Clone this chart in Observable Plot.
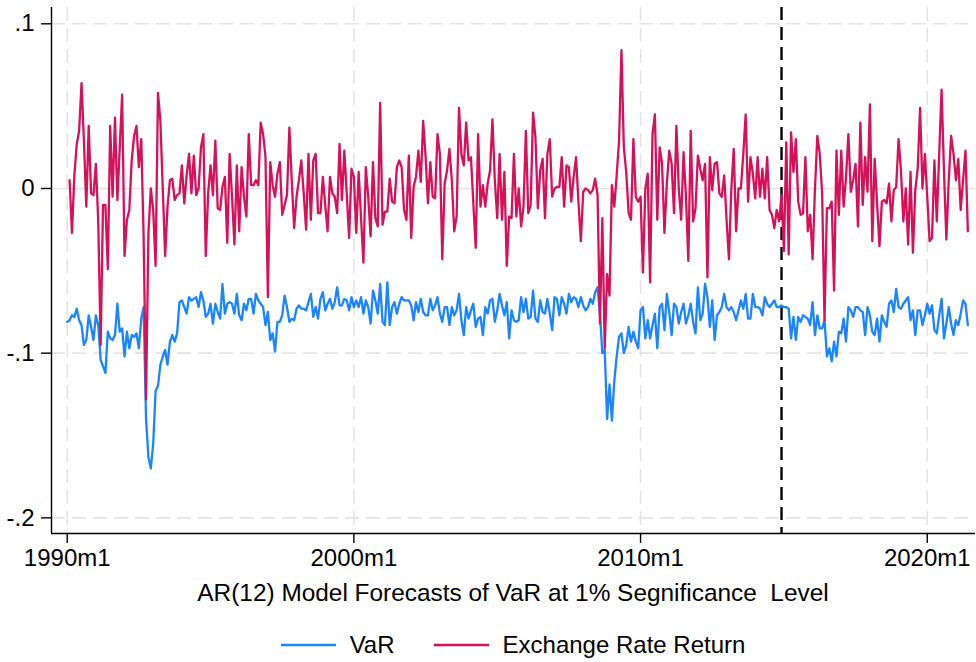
<!DOCTYPE html>
<html>
<head>
<meta charset="utf-8">
<script src="https://cdn.jsdelivr.net/npm/d3@7"></script>
<script src="https://cdn.jsdelivr.net/npm/@observablehq/plot@0.6"></script>
<style>
  html, body { margin: 0; padding: 0; background: #fff; }
  body { width: 976px; height: 662px; overflow: hidden; font-family: "Liberation Sans", Arial, Helvetica, sans-serif; color: #000; }
  #caption { height: 36px; line-height: 36px; padding: 0 1px 0 51px; text-align: center; font-size: 24.4px; white-space: pre; }
  #legend { height: 68px; padding: 0 1px 0 51px; display: flex; align-items: center; justify-content: center; font-size: 24px; }
  #legend .item { display: flex; align-items: center; white-space: pre; }
  #legend .item + .item { margin-left: 39px; }
  #legend svg { margin-right: 14px; }
</style>
</head>
<body>
<div id="chart"></div>
<div id="caption"></div>
<div id="legend"></div>
<script>
// Monthly Value-at-Risk forecasts (AR(12), 1% level), one row per year
const varStart = "1990m1";
const varValues = [
  -0.081,-0.080,-0.077,-0.078,-0.073,-0.080,-0.083,-0.095,-0.092,-0.077,-0.084,-0.092,
  -0.077,-0.083,-0.104,-0.108,-0.112,-0.087,-0.091,-0.092,-0.089,-0.070,-0.087,-0.085,
  -0.102,-0.087,-0.097,-0.089,-0.090,-0.088,-0.097,-0.079,-0.072,-0.140,-0.163,-0.170,
  -0.155,-0.123,-0.120,-0.107,-0.102,-0.098,-0.107,-0.093,-0.089,-0.093,-0.088,-0.069,
  -0.068,-0.072,-0.076,-0.066,-0.068,-0.067,-0.066,-0.072,-0.063,-0.068,-0.078,-0.076,
  -0.070,-0.082,-0.070,-0.075,-0.079,-0.058,-0.076,-0.070,-0.069,-0.070,-0.076,-0.064,
  -0.077,-0.080,-0.070,-0.074,-0.067,-0.067,-0.076,-0.064,-0.068,-0.070,-0.072,-0.083,
  -0.075,-0.092,-0.088,-0.099,-0.081,-0.081,-0.077,-0.065,-0.072,-0.081,-0.079,-0.080,
  -0.073,-0.071,-0.073,-0.073,-0.074,-0.069,-0.064,-0.078,-0.072,-0.079,-0.067,-0.063,
  -0.074,-0.070,-0.067,-0.073,-0.069,-0.060,-0.071,-0.071,-0.067,-0.068,-0.074,-0.066,
  -0.072,-0.068,-0.072,-0.066,-0.076,-0.068,-0.072,-0.082,-0.062,-0.068,-0.076,-0.058,
  -0.081,-0.083,-0.057,-0.083,-0.072,-0.069,-0.076,-0.070,-0.066,-0.068,-0.068,-0.068,
  -0.071,-0.080,-0.069,-0.075,-0.067,-0.075,-0.077,-0.077,-0.067,-0.074,-0.071,-0.066,
  -0.076,-0.081,-0.072,-0.072,-0.083,-0.072,-0.077,-0.074,-0.064,-0.080,-0.089,-0.072,
  -0.079,-0.074,-0.070,-0.084,-0.079,-0.078,-0.089,-0.072,-0.076,-0.068,-0.067,-0.081,
  -0.074,-0.064,-0.071,-0.077,-0.069,-0.091,-0.074,-0.080,-0.081,-0.080,-0.066,-0.075,
  -0.067,-0.079,-0.078,-0.062,-0.079,-0.081,-0.068,-0.075,-0.076,-0.067,-0.076,-0.086,
  -0.066,-0.067,-0.077,-0.066,-0.070,-0.076,-0.064,-0.069,-0.066,-0.067,-0.072,-0.066,
  -0.071,-0.074,-0.072,-0.067,-0.070,-0.063,-0.060,-0.076,-0.100,-0.098,-0.140,-0.119,
  -0.141,-0.117,-0.102,-0.090,-0.088,-0.100,-0.095,-0.084,-0.093,-0.087,-0.093,-0.097,
  -0.074,-0.072,-0.091,-0.080,-0.091,-0.083,-0.076,-0.097,-0.072,-0.070,-0.086,-0.064,
  -0.075,-0.089,-0.070,-0.072,-0.082,-0.075,-0.070,-0.082,-0.077,-0.070,-0.081,-0.088,
  -0.060,-0.080,-0.076,-0.058,-0.066,-0.084,-0.068,-0.092,-0.077,-0.075,-0.072,-0.064,
  -0.072,-0.074,-0.072,-0.075,-0.080,-0.074,-0.068,-0.073,-0.064,-0.079,-0.079,-0.064,
  -0.072,-0.072,-0.073,-0.077,-0.066,-0.070,-0.072,-0.070,-0.068,-0.072,-0.072,-0.071,
  -0.072,-0.072,-0.073,-0.091,-0.078,-0.092,-0.078,-0.081,-0.077,-0.078,-0.079,-0.083,
  -0.069,-0.089,-0.077,-0.085,-0.085,-0.080,-0.102,-0.097,-0.105,-0.093,-0.102,-0.087,
  -0.088,-0.079,-0.093,-0.072,-0.074,-0.078,-0.072,-0.072,-0.074,-0.075,-0.089,-0.072,
  -0.077,-0.087,-0.089,-0.079,-0.093,-0.077,-0.081,-0.084,-0.070,-0.068,-0.075,-0.061,
  -0.072,-0.073,-0.070,-0.068,-0.066,-0.080,-0.074,-0.089,-0.074,-0.074,-0.083,-0.077,
  -0.070,-0.076,-0.071,-0.086,-0.088,-0.077,-0.067,-0.091,-0.082,-0.072,-0.082,-0.089,
  -0.080,-0.083,-0.076,-0.068,-0.070,-0.083
];

// Monthly exchange rate returns
const returnStart = "1990m2";
const returnValues = [
          0.005,-0.027,0.008,0.027,0.035,0.064,0.029,-0.011,0.038,-0.003,-0.004,
  0.015,-0.020,-0.095,-0.010,-0.010,-0.049,0.038,-0.005,0.043,-0.007,0.025,0.057,
  -0.041,-0.019,-0.013,0.017,0.032,0.038,0.013,0.030,-0.030,-0.128,-0.027,0.000,
  -0.013,-0.047,0.058,0.041,0.000,-0.041,-0.011,0.005,0.006,-0.007,-0.004,-0.003,
  0.014,-0.009,0.008,0.021,-0.003,0.020,-0.004,0.000,0.025,0.033,-0.041,-0.003,
  0.014,-0.004,0.029,-0.012,-0.013,0.001,0.007,-0.033,0.021,-0.005,-0.034,0.014,
  -0.026,0.013,-0.005,-0.017,0.033,0.002,0.002,0.005,0.002,0.040,0.033,0.019,
  -0.066,0.016,0.002,-0.005,0.009,0.016,-0.016,-0.010,-0.004,0.037,0.005,-0.024,
  -0.005,0.005,0.017,-0.003,-0.025,0.021,-0.019,0.017,0.021,-0.015,-0.015,0.007,
  -0.010,-0.026,0.007,-0.003,-0.005,-0.015,0.027,-0.007,0.023,-0.003,-0.030,0.012,
  0.007,-0.027,0.010,-0.018,-0.045,0.013,-0.005,-0.029,0.016,-0.018,-0.023,0.052,
  -0.022,-0.014,-0.014,0.006,-0.008,-0.009,0.013,0.017,0.013,-0.013,-0.019,0.020,
  -0.030,0.001,0.007,0.023,0.004,0.041,0.020,-0.009,0.016,-0.005,-0.006,0.033,
  0.021,-0.043,0.003,0.011,0.024,0.005,-0.026,-0.017,0.049,0.021,0.014,0.040,
  0.017,0.019,-0.009,-0.036,0.033,-0.011,0.002,-0.011,0.003,0.011,0.042,0.005,
  -0.018,0.021,-0.019,0.010,-0.047,-0.017,-0.018,0.021,-0.017,0.000,-0.023,-0.011,
  0.035,-0.015,-0.010,0.046,0.031,-0.012,0.011,0.018,-0.018,0.021,0.030,-0.005,
  0.000,0.001,0.001,0.019,-0.011,0.014,0.013,-0.008,0.007,0.019,-0.008,-0.032,
  -0.002,0.000,-0.001,-0.003,-0.001,0.006,-0.004,-0.082,-0.018,-0.097,-0.052,-0.065,
  0.002,-0.011,0.008,0.029,0.084,0.025,0.010,-0.015,-0.019,0.030,-0.005,-0.008,
  -0.005,-0.051,0.000,0.009,-0.057,0.033,0.045,-0.019,0.025,0.015,-0.027,0.003,
  0.023,0.015,-0.015,0.038,0.000,-0.019,0.022,-0.005,-0.044,0.035,-0.020,-0.012,
  0.020,0.012,0.005,0.015,-0.054,0.019,-0.001,0.015,0.016,-0.003,-0.005,0.008,
  -0.019,-0.043,0.000,0.024,-0.026,0.000,0.000,0.021,0.045,-0.008,0.019,0.009,
  -0.006,0.019,-0.005,0.012,-0.006,0.019,-0.013,-0.016,-0.024,-0.013,-0.020,-0.004,
  -0.038,0.028,-0.040,0.034,0.010,0.030,-0.008,-0.016,-0.015,0.019,-0.026,-0.016,
  -0.043,0.000,0.032,0.021,-0.003,-0.080,-0.012,-0.012,-0.008,-0.062,0.023,-0.016,
  0.023,-0.011,0.007,0.033,-0.002,0.005,0.015,-0.023,0.040,-0.010,0.019,-0.002,
  0.051,-0.032,0.018,-0.009,-0.035,-0.008,-0.007,-0.009,0.003,-0.020,-0.001,0.001,
  0.030,0.011,-0.020,0.000,-0.034,0.010,-0.039,-0.001,0.012,0.049,0.000,0.021,
  -0.005,-0.032,-0.030,0.017,-0.020,0.021,0.060,0.011,-0.031,0.005,0.032,0.021,
  0.005,0.018,-0.013,0.005,0.023,-0.026
];

// Start of the out-of-sample forecast window
const forecastStart = "2014m12";

// Axis ticks and labels
const xTickLabels = ["1990m1", "2000m1", "2010m1", "2020m1"];
const yTickValues = [0.1, 0, -0.1, -0.2];
const seriesNames = ["VaR", "Exchange Rate Return"];
const seriesColors = ["#1A85FF", "#D41159"];
const xTitle = "AR(12) Model Forecasts of VaR at 1% Segnificance  Level";

// "YYYYmM" <-> running month number
const monthIndex = s => { const [y, m] = s.split("m").map(Number); return y * 12 + (m - 1); };
const monthLabel = i => `${Math.floor(i / 12)}m${(i % 12) + 1}`;
// Stata-style numbers: .1, 0, -.1
const stataNum = d => d === 0 ? "0" : (d < 0 ? "-" : "") + String(+Math.abs(d).toFixed(3)).replace(/^0/, "");

const series = (start, values, name) =>
  values.map((v, i) => ({month: monthIndex(start) + i, value: v, series: name}));
const varData = series(varStart, varValues, seriesNames[0]);
const retData = series(returnStart, returnValues, seriesNames[1]);

const base = monthIndex(xTickLabels[0]);
const xDomain = [base - 6.57, base + 380.2];
const yDomain = [-0.2095, 0.1099];
const gridStyle = {stroke: "#e4e4e4", strokeOpacity: 1, strokeWidth: 1.6};

const chart = Plot.plot({
  width: 976,
  height: 575,
  marginLeft: 51,
  marginRight: 1,
  marginTop: 7,
  marginBottom: 42,
  style: {fontFamily: '"Liberation Sans", Arial, Helvetica, sans-serif', fontSize: "24px", color: "#000", background: "#fff"},
  x: {type: "linear", domain: xDomain, label: null},
  y: {domain: yDomain, label: null},
  marks: [
    Plot.gridY(yTickValues.filter(d => d !== 0), {...gridStyle, strokeDasharray: "14,7"}),
    Plot.gridY([0], gridStyle),
    Plot.gridX(xTickLabels.map(monthIndex), {...gridStyle, strokeDasharray: "14,7"}),
    Plot.ruleX([monthIndex(forecastStart)], {stroke: "#000", strokeWidth: 2.4, strokeDasharray: "13,7"}),
    Plot.line(varData, {x: "month", y: "value", stroke: seriesColors[0], strokeWidth: 2.3}),
    Plot.line(retData, {x: "month", y: "value", stroke: seriesColors[1], strokeWidth: 2.3}),
    Plot.axisY(yTickValues, {tickSize: 10, tickPadding: 7, tickFormat: stataNum, label: null, fontSize: 24, strokeWidth: 1.4}),
    Plot.axisX(xTickLabels.map(monthIndex), {tickSize: 10, tickPadding: 5, tickFormat: monthLabel, label: null, fontSize: 24, strokeWidth: 1.4}),
    Plot.ruleX([xDomain[0]], {stroke: "#000", strokeWidth: 1.4}),
    Plot.ruleY([yDomain[0]], {stroke: "#000", strokeWidth: 1.4})
  ]
});
document.getElementById("chart").appendChild(chart);

document.getElementById("caption").textContent = xTitle;

// Legend below the chart
const legend = document.getElementById("legend");
seriesNames.forEach((name, i) => {
  const item = document.createElement("div");
  item.className = "item";
  item.innerHTML = `<svg width="55" height="4"><line x1="0" x2="55" y1="2" y2="2" stroke="${seriesColors[i]}" stroke-width="2.3"/></svg><span></span>`;
  item.querySelector("span").textContent = name;
  legend.appendChild(item);
});
</script>
</body>
</html>
